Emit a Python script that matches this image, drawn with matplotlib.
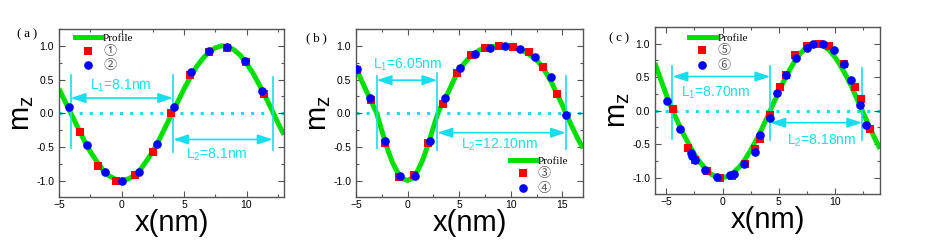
import matplotlib
matplotlib.use('Agg')
import matplotlib.pyplot as plt
from matplotlib.lines import Line2D
from matplotlib.ticker import MultipleLocator, FormatStrFormatter

plt.rcParams['font.family'] = ['Liberation Sans', 'DejaVu Sans']
plt.rcParams['mathtext.default'] = 'regular'

# ---------------- data ----------------
# panel (a)
a_prof_x = [-5.0, -4.5, -4.0, -3.5, -3.0, -2.5, -2.0, -1.5, -1.0, -0.5, 0.0, 0.5, 1.0, 1.5, 2.0,
            2.5, 3.0, 3.5, 4.0, 4.5, 5.0, 5.5, 6.0, 6.5, 7.0, 7.5, 8.0, 8.5, 9.0, 9.5, 10.0,
            10.5, 11.0, 11.5, 12.0, 12.5, 13.0]
a_prof_y = [0.36, 0.17, -0.02, -0.21, -0.40, -0.57, -0.71, -0.84, -0.93, -0.98, -1.00, -0.98, -0.93,
            -0.84, -0.71, -0.57, -0.40, -0.21, -0.02, 0.17, 0.36, 0.53, 0.69, 0.81, 0.91, 0.97, 1.00,
            0.99, 0.94, 0.86, 0.74, 0.60, 0.43, 0.25, 0.06, -0.14, -0.32]
a_sq_x = [-3.33, -1.88, -0.42, 1.08, 2.54, 3.99, 5.48, 6.98, 8.44, 9.92, 11.38]
a_sq_y = [-0.28, -0.78, -1.00, -0.92, -0.57, 0.00, 0.56, 0.91, 0.97, 0.76, 0.28]
a_ci_x = [-4.21, -2.75, -1.35, 0.05, 1.38, 2.80, 4.21, 5.58, 7.01, 8.41, 9.84, 11.27]
a_ci_y = [0.09, -0.48, -0.88, -1.00, -0.87, -0.46, 0.09, 0.61, 0.93, 0.985, 0.77, 0.33]
a_walls = [-4.07, 4.13, 12.09]
a_labels = ['Profile', '①', '②']
a_L = ['$L_1$=8.1nm', '$L_2$=8.1nm']

# panel (b)
b_prof_x = [-5.0, -4.5, -4.0, -3.5, -3.0, -2.5, -2.0, -1.5, -1.0, -0.5, 0.0, 0.5, 1.0, 1.5, 2.0,
            2.5, 3.0, 3.5, 4.0, 4.5, 5.0, 5.5, 6.0, 6.5, 7.0, 7.5, 8.0, 8.5, 9.0, 9.5, 10.0,
            10.5, 11.0, 11.5, 12.0, 12.5, 13.0, 13.5, 14.0, 14.5, 15.0, 15.5, 16.0, 16.5, 17.0]
b_prof_y = [0.67, 0.50, 0.33, 0.17, 0.00, -0.26, -0.51, -0.72, -0.87, -0.97, -1.00, -0.96, -0.85,
            -0.68, -0.46, -0.21, 0.03, 0.18, 0.33, 0.50, 0.63, 0.74, 0.83, 0.89, 0.94, 0.97, 0.985,
            0.995, 1.00, 1.00, 0.99, 0.97, 0.94, 0.90, 0.85, 0.79, 0.70, 0.58, 0.44, 0.28, 0.12,
            -0.06, -0.22, -0.38, -0.52]
b_sq_x = [-4.86, -3.58, -2.17, -0.80, 0.64, 1.98, 3.39, 4.79, 6.13, 7.51, 8.85, 10.22, 11.72, 13.10, 14.47]
b_sq_y = [0.64, 0.20, -0.45, -0.95, -0.92, -0.45, 0.14, 0.60, 0.86, 0.975, 1.00, 0.985, 0.905, 0.69, 0.28]
b_ci_x = [-4.95, -3.67, -2.17, -0.70, 0.70, 2.17, 3.61, 5.05, 6.52, 7.99, 9.42, 10.93, 12.36, 13.87, 15.34]
b_ci_y = [0.65, 0.22, -0.42, -0.93, -0.93, -0.42, 0.22, 0.67, 0.88, 0.975, 1.00, 0.95, 0.83, 0.53, -0.02]
b_walls = [-3.0, 2.88, 15.34]
b_labels = ['Profile', '③', '④']
b_L = ['$L_1$=6.05nm', '$L_2$=12.10nm']

# panel (c)
c_prof_x = [-6.0, -5.5, -5.0, -4.5, -4.0, -3.5, -3.0, -2.5, -2.0, -1.5, -1.0, -0.5, 0.0, 0.5, 1.0,
            1.5, 2.0, 2.5, 3.0, 3.5, 4.0, 4.5, 5.0, 5.5, 6.0, 6.5, 7.0, 7.5, 8.0, 8.5, 9.0, 9.5,
            10.0, 10.5, 11.0, 11.5, 12.0, 12.5, 13.0, 13.5, 14.0]
c_prof_y = [0.71, 0.47, 0.24, 0.02, -0.16, -0.34, -0.50, -0.65, -0.77, -0.87, -0.95, -0.99, -1.00,
            -0.98, -0.92, -0.84, -0.73, -0.59, -0.44, -0.27, -0.09, 0.10, 0.28, 0.46, 0.62, 0.76,
            0.87, 0.95, 0.99, 1.00, 0.97, 0.90, 0.80, 0.67, 0.52, 0.35, 0.16, -0.03, -0.22, -0.40, -0.57]
c_sq_x = [-4.40, -3.04, -2.45, -1.42, -0.24, 0.80, 1.98, 2.92, 3.36, 4.25, 5.13, 5.66, 6.46, 7.49,
          8.61, 9.50, 10.83, 11.80, 12.30, 13.07]
c_sq_y = [0.02, -0.56, -0.73, -0.90, -1.00, -0.975, -0.80, -0.58, -0.43, -0.06, 0.35, 0.54, 0.83,
          0.97, 1.00, 0.96, 0.69, 0.35, 0.17, -0.27]
c_ci_x = [-4.90, -3.78, -2.83, -2.68, -2.48, -1.56, -0.47, 0.65, 1.06, 1.95, 2.85, 3.36, 4.25, 4.84,
          5.66, 6.55, 7.55, 8.02, 8.91, 9.94, 10.80, 11.39, 12.21, 12.74]
c_ci_y = [0.15, -0.28, -0.63, -0.68, -0.73, -0.89, -0.99, -0.96, -0.94, -0.79, -0.62, -0.37, -0.11,
          0.27, 0.54, 0.79, 0.94, 1.00, 1.00, 0.90, 0.70, 0.46, 0.09, -0.22]
c_walls = [-4.45, 4.25, 12.42]
c_labels = ['Profile', '⑤', '⑥']
c_L = ['$L_1$=8.70nm', '$L_2$=8.18nm']

# ---------------- style ----------------
GREEN = '#00E000'
RED = '#FF0000'
BLUE = '#0000FF'
CYAN = '#18DDEE'
FRAME = '#555555'

W, H = 926, 243
fig = plt.figure(figsize=(W / 100, H / 100), dpi=100)


def px_axes(left, top, right, bottom):
    return fig.add_axes([left / W, 1 - bottom / H, (right - left) / W, (bottom - top) / H])


panels = [
    dict(box=(59, 29, 284, 197), xlim=(-5, 13), px=a_prof_x, py=a_prof_y, sx=a_sq_x, sy=a_sq_y,
         cx=a_ci_x, cy=a_ci_y, walls=a_walls, labels=a_labels, L=a_L, tag='(\u2009a\u2009)', tagpos=(27, 34),
         vspan=[(-0.51, 0.57), (-0.57, 0.57), (-0.54, 0.53)], arrow_y=(0.225, -0.39),
         Lpos=[(-0.1, 0.40), (7.65, -0.62)], leg=(0.07, 0.975), xmaj=5),
    dict(box=(356, 29, 583, 197), xlim=(-5, 17), px=b_prof_x, py=b_prof_y, sx=b_sq_x, sy=b_sq_y,
         cx=b_ci_x, cy=b_ci_y, walls=b_walls, labels=b_labels, L=b_L, tag='(\u2009b\u2009)', tagpos=(316, 38),
         vspan=[(-0.52, 0.55), (-0.54, 0.59), (-0.53, 0.55)], arrow_y=(0.49, -0.29),
         Lpos=[(0.0, 0.72), (8.95, -0.47)], leg=(0.677, 0.245), xmaj=5),
    dict(box=(655, 27, 880, 194), xlim=(-6, 14), px=c_prof_x, py=c_prof_y, sx=c_sq_x, sy=c_sq_y,
         cx=c_ci_x, cy=c_ci_y, walls=c_walls, labels=c_labels, L=c_L, tag='(\u2009c\u2009)', tagpos=(619, 38),
         vspan=[(-0.43, 0.66), (-0.44, 0.66), (-0.44, 0.64)], arrow_y=(0.51, -0.18),
         Lpos=[(-0.6, 0.27), (8.8, -0.45)], leg=(0.151, 0.965), xmaj=5),
]

for p in panels:
    ax = px_axes(*p['box'])
    ax.set_xlim(*p['xlim'])
    ax.set_ylim(-1.245, 1.25)

    # dotted zero line
    ax.axhline(0, color=CYAN, lw=2.2, linestyle=(0, (1, 2.3)), dash_capstyle='butt', zorder=1)
    # profile
    ax.plot(p['px'], p['py'], color=GREEN, lw=3.6, solid_capstyle='butt', zorder=2)
    # domain walls
    for xw, (y0, y1) in zip(p['walls'], p['vspan']):
        ax.plot([xw, xw], [y0, y1], color=CYAN, lw=1.2, zorder=3)
    # arrows
    for i in range(2):
        ax.annotate('', xy=(p['walls'][i + 1], p['arrow_y'][i]), xytext=(p['walls'][i], p['arrow_y'][i]),
                    arrowprops=dict(arrowstyle='<|-|>,head_length=0.75,head_width=0.25', color=CYAN,
                                    lw=1.2, mutation_scale=12, shrinkA=0, shrinkB=0), zorder=3)
        ax.text(p['Lpos'][i][0], p['Lpos'][i][1], p['L'][i], color=CYAN, fontsize=10,
                ha='center', va='center', zorder=4)
    # markers
    ax.plot(p['sx'], p['sy'], 's', color=RED, ms=5.3, mew=0, zorder=5)
    ax.plot(p['cx'], p['cy'], 'o', color=BLUE, ms=6.2, mew=0, zorder=6)

    # legend
    handles = [Line2D([], [], color=GREEN, lw=3.6),
               Line2D([], [], ls='none', marker='s', color=RED, ms=5.3, mew=0),
               Line2D([], [], ls='none', marker='o', color=BLUE, ms=6.2, mew=0)]
    leg = ax.legend(handles, p['labels'], loc='upper left', bbox_to_anchor=p['leg'], frameon=False,
                    borderpad=0, borderaxespad=0, handlelength=2.4, handletextpad=0.15,
                    labelspacing=0.15, prop={'family': 'Liberation Serif', 'size': 8})
    for t in leg.get_texts()[1:]:
        t.set_fontfamily(['Noto Sans CJK SC', 'DejaVu Sans'])
        t.set_color('#555555')
        t.set_fontsize(9.5)

    # axes styling
    ax.xaxis.set_major_locator(MultipleLocator(p['xmaj']))
    ax.xaxis.set_minor_locator(MultipleLocator(p['xmaj'] / 2))
    ax.yaxis.set_major_locator(MultipleLocator(0.5))
    ax.yaxis.set_minor_locator(MultipleLocator(0.25))
    ax.yaxis.set_major_formatter(FormatStrFormatter('%.1f'))
    ax.tick_params(which='both', direction='in', top=True, right=True, color=FRAME, labelsize=7.5)
    ax.tick_params(which='major', length=4, width=0.8)
    ax.tick_params(which='minor', length=2, width=0.8)
    ax.tick_params(axis='x', pad=2.5)
    ax.tick_params(axis='y', pad=3.5)
    for s in ax.spines.values():
        s.set_color(FRAME)
        s.set_linewidth(1.0)
    ax.set_xlabel('x(nm)', fontsize=21, labelpad=-1)
    ax.set_ylabel('$m_z$', fontsize=21, labelpad=0)

    fig.text(p['tagpos'][0] / W, 1 - p['tagpos'][1] / H, p['tag'], fontsize=9.5,
             family=['Liberation Serif', 'DejaVu Serif'], ha='center', va='center')

fig.savefig('out.png', dpi=100)
